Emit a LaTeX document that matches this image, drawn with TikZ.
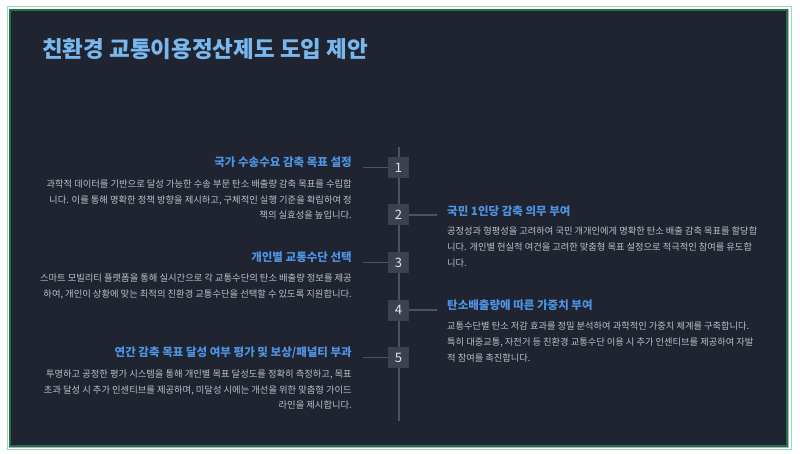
\documentclass[tikz,border=0pt]{standalone}
\usepackage{fontspec}
\setmainfont{Noto Sans CJK KR}
\definecolor{bgdark}{HTML}{1F2430}
\definecolor{frameout}{HTML}{9ADBB2}
\definecolor{framein}{HTML}{23704A}
\definecolor{maintitle}{HTML}{79B8EE}
\definecolor{itemtitle}{HTML}{4F93E3}
\definecolor{desc}{HTML}{BCC0C6}
\definecolor{boxfill}{HTML}{3C424D}
\definecolor{linegray}{HTML}{4E545E}
\definecolor{numcol}{HTML}{E2E4E8}
\tikzset{
  numbox/.style={fill=boxfill, minimum width=21pt, minimum height=21pt, inner sep=0pt, text=numcol, font=\fontsize{13}{13}\selectfont},
  ltitle/.style={anchor=east, inner sep=0pt, text=itemtitle, font=\fontsize{11.5}{13}\selectfont\bfseries},
  rtitle/.style={anchor=west, inner sep=0pt, text=itemtitle, font=\fontsize{11.5}{13}\selectfont\bfseries},
  ldesc/.style={anchor=north east, inner sep=0pt, text=desc, align=right, font=\fontsize{9.3}{15.2}\selectfont},
  rdesc/.style={anchor=north west, inner sep=0pt, text=desc, align=left, font=\fontsize{9.25}{15.8}\selectfont},
  conn/.style={draw=linegray, line width=1.4pt}
}
\begin{document}
\begin{tikzpicture}[x=1pt,y=-1pt]
\useasboundingbox (0,0) rectangle (800,454);
\fill[white] (0,0) rectangle (800,454);
\fill[gray!60] (9,9) rectangle (789,448);
\draw[frameout, line width=1pt] (7,7) rectangle (791,449);
\draw[framein, line width=1.5pt, fill=bgdark] (10,10) rectangle (787,446);
\node[anchor=west, inner sep=0pt, text=maintitle, font=\fontsize{22.5}{24}\selectfont\bfseries] (title) at (42,49) {친환경 교통이용정산제도 도입 제안};
% timeline
\coordinate (ltop) at (399,147);
\coordinate (lbot) at (399,421);
\draw[conn] (ltop) -- (lbot);
\node[numbox] (b1) at (398.5,167.5) {1};
\node[numbox] (b2) at (398.5,215) {2};
\node[numbox] (b3) at (398.5,262.5) {3};
\node[numbox] (b4) at (398.5,310) {4};
\node[numbox] (b5) at (398.5,357.5) {5};
\coordinate (c1) at (363,167.5);
\coordinate (c2) at (437,215);
\coordinate (c3) at (363,262.5);
\coordinate (c4) at (437,310);
\coordinate (c5) at (363,357.5);
\draw[conn] (c1) -- (b1.west);
\draw[conn] (b2.east) -- (c2);
\draw[conn] (c3) -- (b3.west);
\draw[conn] (b4.east) -- (c4);
\draw[conn] (c5) -- (b5.west);
% item 1
\node[ltitle] (t1) at (352,162) {국가 수송수요 감축 목표 설정};
\node[ldesc] (d1) at (352,180) {과학적 데이터를 기반으로 달성 가능한 수송 부문 탄소 배출량 감축 목표를 수립합\\니다. 이를 통해 명확한 정책 방향을 제시하고, 구체적인 실행 기준을 확립하여 정\\책의 실효성을 높입니다.};
% item 3
\node[ltitle] (t3) at (352,257) {개인별 교통수단 선택};
\node[ldesc] (d3) at (352,274) {스마트 모빌리티 플랫폼을 통해 실시간으로 각 교통수단의 탄소 배출량 정보를 제공\\하여, 개인이 상황에 맞는 최적의 친환경 교통수단을 선택할 수 있도록 지원합니다.};
% item 5
\node[ltitle] (t5) at (352,353) {연간 감축 목표 달성 여부 평가 및 보상/패널티 부과};
\node[ldesc] (d5) at (352,370) {투명하고 공정한 평가 시스템을 통해 개인별 목표 달성도를 정확히 측정하고, 목표\\초과 달성 시 추가 인센티브를 제공하며, 미달성 시에는 개선을 위한 맞춤형 가이드\\라인을 제시합니다.};
% item 2
\node[rtitle] (t2) at (447,211) {국민 1인당 감축 의무 부여};
\node[rdesc] (d2) at (447,227) {공정성과 형평성을 고려하여 국민 개개인에게 명확한 탄소 배출 감축 목표를 할당합\\니다. 개인별 현실적 여건을 고려한 맞춤형 목표 설정으로 적극적인 참여를 유도합\\니다.};
% item 4
\node[rtitle] (t4) at (447,305) {탄소배출량에 따른 가중치 부여};
\node[rdesc] (d4) at (447,322) {교통수단별 탄소 저감 효과를 정밀 분석하여 과학적인 가중치 체계를 구축합니다.\\특히 대중교통, 자전거 등 친환경 교통수단 이용 시 추가 인센티브를 제공하여 자발\\적 참여를 촉진합니다.};
\end{tikzpicture}
\end{document}
